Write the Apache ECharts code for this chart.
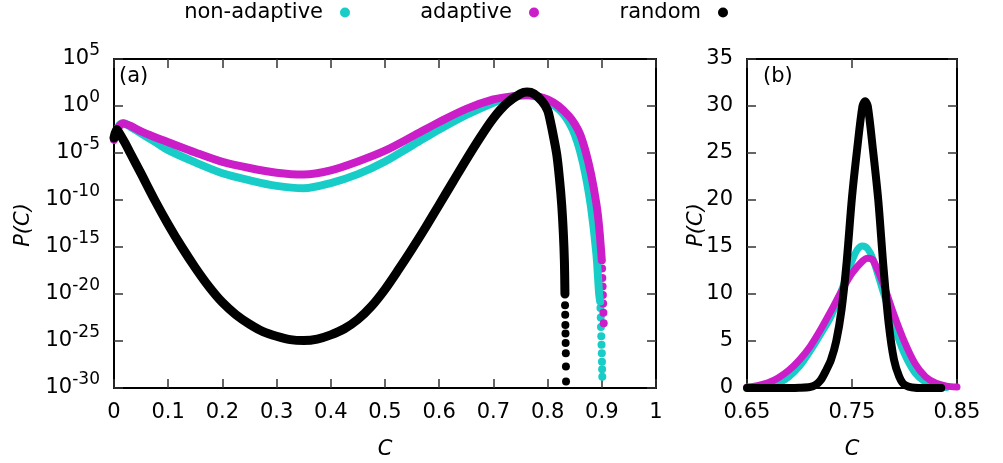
<!DOCTYPE html>
<html><head><meta charset="utf-8">
<script src="https://cdn.jsdelivr.net/npm/echarts@6/dist/echarts.min.js"></script>
<style>html,body{margin:0;padding:0;background:#fff}#c{width:1003px;height:463px}</style>
</head><body><div id="c"></div>
<script>
// ---------- DATA ----------
const seriesNames = ['non-adaptive', 'adaptive', 'random'];
const colors = ['#18cdc7', '#cc1ec8', '#000000'];

// Panel (a): log10 P(C) versus C
const aNonAdaptiveC = [0, 0.008, 0.017, 0.03, 0.05, 0.075, 0.1, 0.15, 0.2, 0.25, 0.3, 0.35, 0.4, 0.45, 0.5, 0.55, 0.6, 0.65, 0.7, 0.73, 0.76, 0.78, 0.8, 0.82, 0.83, 0.84, 0.85, 0.86, 0.87, 0.88, 0.89, 0.895, 0.897];
const aNonAdaptiveLog = [-3.5, -2.2, -1.8, -2.2, -2.9, -3.8, -4.7, -6.0, -7.15, -7.9, -8.5, -8.75, -8.2, -7.25, -5.9, -4.2, -2.5, -0.95, 0.35, 0.95, 1.18, 1.0, 0.55, -0.3, -0.9, -1.8, -3.0, -4.8, -7.3, -10.7, -15.7, -19.9, -20.8];
const aNonAdaptiveTailC = [0.8975, 0.898, 0.8985, 0.899, 0.8995, 0.9, 0.9003, 0.9006, 0.9009];
const aNonAdaptiveTailLog = [-21.5, -22.5, -23.5, -24.5, -25.4, -26.3, -27.2, -28.0, -28.8];

const aAdaptiveC = [0, 0.008, 0.017, 0.03, 0.05, 0.075, 0.1, 0.15, 0.2, 0.25, 0.3, 0.35, 0.4, 0.45, 0.5, 0.55, 0.6, 0.65, 0.7, 0.73, 0.765, 0.78, 0.8, 0.82, 0.84, 0.85, 0.86, 0.87, 0.88, 0.89, 0.895, 0.9];
const aAdaptiveLog = [-3.6, -2.3, -1.85, -2.1, -2.7, -3.3, -3.85, -4.95, -5.95, -6.6, -7.1, -7.3, -6.85, -5.9, -4.75, -3.25, -1.7, -0.3, 0.7, 1.0, 1.14, 1.05, 0.7, 0.0, -1.1, -1.9, -3.0, -4.8, -7.2, -10.4, -12.8, -16.4];
const aAdaptiveTailC = [0.9005, 0.901, 0.9015, 0.902, 0.9025, 0.903, 0.9035];
const aAdaptiveTailLog = [-17.3, -18.3, -19.2, -20.1, -21.0, -22.0, -23.1];

const aRandomC = [0, 0.005, 0.01, 0.02, 0.03, 0.05, 0.075, 0.1, 0.125, 0.15, 0.175, 0.2, 0.225, 0.25, 0.275, 0.3, 0.325, 0.35, 0.375, 0.4, 0.425, 0.45, 0.475, 0.5, 0.525, 0.55, 0.575, 0.6, 0.625, 0.65, 0.675, 0.7, 0.725, 0.75, 0.762, 0.775, 0.79, 0.8, 0.805, 0.81, 0.817, 0.822, 0.826, 0.829, 0.831, 0.832];
const aRandomLog = [-3.4, -2.5, -2.9, -3.9, -5.0, -7.2, -10.0, -12.6, -15.0, -17.2, -19.2, -20.9, -22.2, -23.2, -24.0, -24.5, -24.85, -24.95, -24.8, -24.35, -23.7, -22.7, -21.3, -19.5, -17.4, -15.2, -12.9, -10.5, -8.1, -5.7, -3.4, -1.3, 0.3, 1.3, 1.48, 1.3, 0.5, -0.45, -1.6, -3.0, -5.2, -7.8, -10.5, -13.5, -16.5, -20.0];
const aRandomTailC = [0.8322, 0.8325, 0.8328, 0.833, 0.8333, 0.8336, 0.8338, 0.834];
const aRandomTailLog = [-21.2, -22.2, -23.3, -24.2, -25.2, -26.3, -27.7, -29.3];

// Panel (b): P(C) versus C (linear)
const bNonAdaptiveC = [0.65, 0.66, 0.67, 0.68, 0.69, 0.70, 0.71, 0.72, 0.73, 0.74, 0.75, 0.755, 0.76, 0.765, 0.77, 0.78, 0.79, 0.80, 0.81, 0.82, 0.83, 0.84];
const bNonAdaptiveP = [0.02, 0.06, 0.15, 0.5, 1.2, 2.3, 3.9, 5.7, 7.6, 10.4, 13.5, 14.7, 15.1, 14.8, 13.7, 10.1, 6.6, 3.6, 1.6, 0.6, 0.2, 0.05];
const bAdaptiveC = [0.65, 0.66, 0.67, 0.68, 0.69, 0.70, 0.71, 0.72, 0.73, 0.74, 0.75, 0.76, 0.765, 0.77, 0.78, 0.79, 0.80, 0.81, 0.82, 0.83, 0.84, 0.85];
const bAdaptiveP = [0.1, 0.25, 0.55, 1.1, 1.9, 3.0, 4.4, 6.2, 8.2, 10.3, 12.2, 13.5, 13.8, 13.6, 11.0, 7.8, 4.9, 2.6, 1.2, 0.5, 0.2, 0.1];
const bRandomC = [0.65, 0.67, 0.69, 0.70, 0.71, 0.715, 0.72, 0.725, 0.73, 0.735, 0.74, 0.745, 0.75, 0.755, 0.76, 0.7625, 0.765, 0.77, 0.775, 0.78, 0.785, 0.79, 0.795, 0.80, 0.81, 0.82, 0.835];
const bRandomP = [0, 0, 0, 0.02, 0.1, 0.3, 0.8, 1.8, 3.0, 5.0, 8.3, 13.5, 20.3, 25.5, 30.0, 30.5, 30.0, 25.3, 20.0, 12.8, 6.8, 3.0, 1.2, 0.35, 0.03, 0, 0];

// axis ticks
const aXTicks = { min: 0, max: 1, interval: 0.1 };
const aYExp = { min: -30, max: 5, interval: 5 };   // exponents of 10
const bXTicks = { min: 0.65, max: 0.85, interval: 0.1 };
const bYTicks = { min: 0, max: 35, interval: 5 };

// ---------- CHART ----------
const FONT = 'DejaVu Sans';
const FS = 21;
const pairs = (cs, ps) => cs.map((c, i) => [c, ps[i]]);

const frameLine = { show: true, onZero: false, lineStyle: { color: '#000', width: 2 } };
const tick = { show: true, inside: true, length: 9, lineStyle: { color: '#333', width: 1.5 } };

function xAx(grid, t, pos, showLabel, fmt) {
  return {
    gridIndex: grid, type: 'value', position: pos, min: t.min, max: t.max, interval: t.interval,
    axisLine: frameLine, axisTick: tick, splitLine: { show: false },
    axisLabel: { show: showLabel, fontFamily: FONT, fontSize: FS, color: '#000', margin: 14, formatter: fmt }
  };
}
function yAx(grid, t, pos, showLabel, extraLabel) {
  return {
    gridIndex: grid, type: 'value', position: pos, min: t.min, max: t.max, interval: t.interval,
    axisLine: frameLine, axisTick: tick, splitLine: { show: false },
    axisLabel: Object.assign({ show: showLabel, fontFamily: FONT, fontSize: FS, color: '#000', margin: 14 }, extraLabel || {})
  };
}

const mkLine = (name, color, data, xi, yi, w) => ({
  type: 'line', name, data, xAxisIndex: xi, yAxisIndex: yi, symbol: 'none', smooth: 0.3,
  clip: false, lineStyle: { color, width: w, cap: 'round', join: 'round' }, itemStyle: { color },
  emphasis: { disabled: true }, silent: true
});
const mkDots = (name, color, data, xi, yi, s) => ({
  type: 'scatter', name, data, xAxisIndex: xi, yAxisIndex: yi, symbol: 'circle', symbolSize: s,
  clip: false, itemStyle: { color, opacity: 1 }, emphasis: { disabled: true }, silent: true
});

const legendCenters = [344, 533, 722];
const legends = seriesNames.map((n, i) => ({
  data: [{ name: n, itemStyle: { color: colors[i] } }],
  top: 2, right: 1003 - legendCenters[i] - 6, align: 'right', icon: 'circle',
  itemWidth: 34, itemHeight: 10, padding: 0,
  textStyle: { fontFamily: FONT, fontSize: FS, color: '#000' }, selectedMode: false
}));

const txt = (text, x, y, opts) => ({
  type: 'text', x, y, rotation: (opts && opts.rot) || 0, silent: true,
  style: { text, fontFamily: FONT, fontSize: FS, fontStyle: (opts && opts.italic) ? 'italic' : 'normal',
           fill: '#000', align: (opts && opts.align) || 'center', verticalAlign: 'middle' }
});

const option = {
  animation: false,
  textStyle: { fontFamily: FONT },
  legend: legends,
  grid: [
    { left: 114, top: 59, width: 542, height: 329, outerBoundsMode: 'none', containLabel: false },
    { left: 747, top: 59, width: 210, height: 329, outerBoundsMode: 'none', containLabel: false }
  ],
  xAxis: [
    xAx(0, aXTicks, 'bottom', true, v => String(+v.toFixed(1))),
    xAx(0, aXTicks, 'top', false),
    xAx(1, bXTicks, 'bottom', true, v => v.toFixed(2)),
    xAx(1, bXTicks, 'top', false)
  ],
  yAxis: [
    yAx(0, aYExp, 'left', true, {
      margin: 14,
      formatter: v => '{b|10}{s|' + Math.round(v) + '}',
      rich: { b: { fontFamily: FONT, fontSize: FS, lineHeight: 34, color: '#000' },
              s: { fontFamily: FONT, fontSize: 17, lineHeight: 17, verticalAlign: 'top', color: '#000' } }
    }),
    yAx(0, aYExp, 'right', false),
    yAx(1, bYTicks, 'left', true),
    yAx(1, bYTicks, 'right', false)
  ],
  graphic: [
    txt('(a)', 119, 77, { align: 'left' }),
    txt('(b)', 763, 77, { align: 'left' }),
    txt('P(C)', 24, 225, { italic: true, rot: Math.PI / 2 }),
    txt('P(C)', 697, 225, { italic: true, rot: Math.PI / 2 }),
    txt('C', 385, 450, { italic: true }),
    txt('C', 852, 450, { italic: true })
  ],
  series: [
    mkLine(seriesNames[0], colors[0], pairs(aNonAdaptiveC, aNonAdaptiveLog), 0, 0, 8),
    mkDots(seriesNames[0], colors[0], pairs(aNonAdaptiveTailC, aNonAdaptiveTailLog), 0, 0, 8),
    mkLine(seriesNames[1], colors[1], pairs(aAdaptiveC, aAdaptiveLog), 0, 0, 8),
    mkDots(seriesNames[1], colors[1], pairs(aAdaptiveTailC, aAdaptiveTailLog), 0, 0, 8),
    mkLine(seriesNames[2], colors[2], pairs(aRandomC, aRandomLog), 0, 0, 9),
    mkDots(seriesNames[2], colors[2], pairs(aRandomTailC, aRandomTailLog), 0, 0, 8),
    mkLine(seriesNames[0], colors[0], pairs(bNonAdaptiveC, bNonAdaptiveP), 2, 2, 7),
    mkLine(seriesNames[1], colors[1], pairs(bAdaptiveC, bAdaptiveP), 2, 2, 7),
    mkLine(seriesNames[2], colors[2], pairs(bRandomC, bRandomP), 2, 2, 8)
  ]
};
const chart = echarts.init(document.getElementById('c'), null, { renderer: 'canvas' });
chart.setOption(option);
</script>
</body></html>
